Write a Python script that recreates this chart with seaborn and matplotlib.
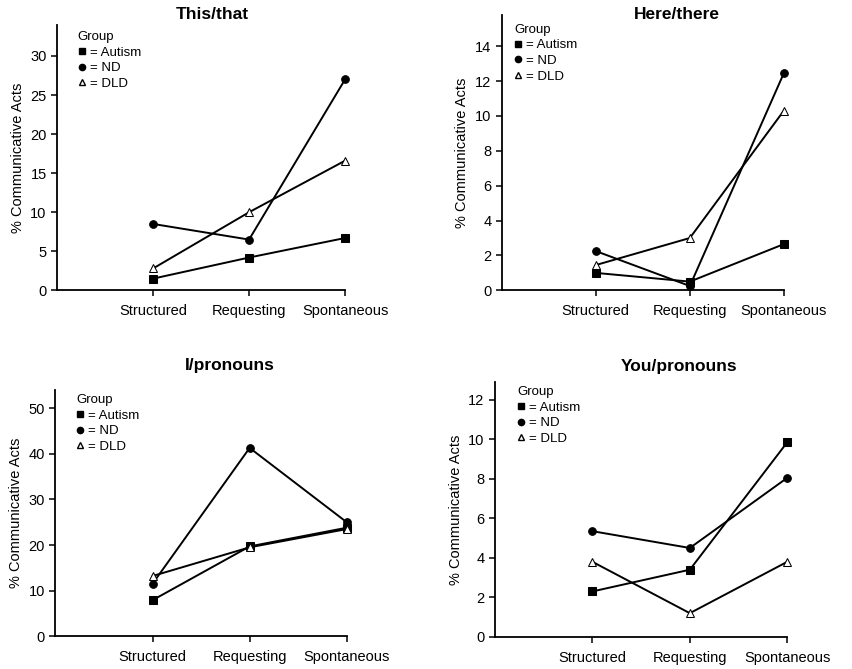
import pandas as pd
import matplotlib.pyplot as plt
import seaborn as sns
from matplotlib.lines import Line2D

sns.set_style("ticks")
plt.rcParams['font.family'] = ['Liberation Sans', 'DejaVu Sans']
plt.rcParams['text.color'] = 'black'
plt.rcParams['axes.labelcolor'] = 'black'

# data
conditions = ["Structured", "Requesting", "Spontaneous"]
groups = ["Autism", "ND", "DLD"]

this_autism = [1.5, 4.2, 6.7]
this_nd = [8.5, 6.5, 27.0]
this_dld = [2.8, 10.0, 16.6]

here_autism = [1.0, 0.5, 2.65]
here_nd = [2.25, 0.25, 12.45]
here_dld = [1.45, 3.0, 10.3]

i_autism = [7.9, 19.7, 23.8]
i_nd = [11.5, 41.3, 25.0]
i_dld = [13.2, 19.5, 23.5]

you_autism = [2.3, 3.4, 9.85]
you_nd = [5.35, 4.5, 8.05]
you_dld = [3.8, 1.2, 3.8]

panels = [
    ("This/that", [this_autism, this_nd, this_dld], 34, 5, 30),
    ("Here/there", [here_autism, here_nd, here_dld], 15.8, 2, 14),
    ("I/pronouns", [i_autism, i_nd, i_dld], 54, 10, 50),
    ("You/pronouns", [you_autism, you_nd, you_dld], 12.9, 2, 12),
]

# axes boxes [left, bottom, width, height] in figure fraction
boxes = [
    [0.067, 0.566, 0.338, 0.397],
    [0.589, 0.566, 0.331, 0.412],
    [0.065, 0.049, 0.342, 0.368],
    [0.581, 0.048, 0.343, 0.381],
]
title_pos = [(0.54, 1.04), (0.62, 1.0), (0.60, 1.10), (0.63, 1.06)]
legend_pos = [(0.04, 1.01), (0.01, 1.0), (0.04, 1.02), (0.045, 1.02)]

markers = {"Autism": "s", "ND": "o", "DLD": "^"}
faces = {"Autism": "black", "ND": "black", "DLD": "white"}

fig = plt.figure(figsize=(8.52, 6.69), dpi=100)

for k, (title, series, ytop, ystep, ymaxtick) in enumerate(panels):
    ax = fig.add_axes(boxes[k])
    for g, vals in zip(groups, series):
        df = pd.DataFrame({"condition": conditions, "pct": vals})
        sns.lineplot(data=df, x="condition", y="pct", ax=ax, color="black",
                     marker=markers[g], markerfacecolor=faces[g],
                     markeredgecolor="black", markersize=5.5, linewidth=1.4,
                     sort=False, clip_on=False, zorder=3)
    ax.set_xlim(-1, 2)
    ax.set_ylim(0, ytop)
    ax.set_yticks(range(0, ymaxtick + 1, ystep))
    ax.set_xlabel("")
    ax.set_ylabel("% Communicative Acts", fontsize=10.5)
    ax.tick_params(axis="both", labelsize=10.5, length=4, width=1.1,
                   direction="out", colors="black")
    ax.tick_params(axis="x", pad=6)
    for s in ["left", "bottom"]:
        ax.spines[s].set_linewidth(1.3)
        ax.spines[s].set_color("black")
    sns.despine(ax=ax)
    ax.text(title_pos[k][0], title_pos[k][1], title, transform=ax.transAxes,
            ha="center", va="center", fontsize=12.5, fontweight="bold")

    handles = [Line2D([], [], linestyle="none", marker=markers[g], color="black",
                      markerfacecolor=faces[g], markersize=4.5) for g in groups]
    leg = ax.legend(handles, ["= " + g for g in groups], title="Group",
                    loc="upper left", bbox_to_anchor=legend_pos[k], frameon=False,
                    fontsize=9.5, title_fontsize=9.5, handlelength=0.6,
                    handletextpad=0.3, labelspacing=0.25, borderpad=0.2,
                    alignment="left")

plt.savefig("out.png", dpi=100)
